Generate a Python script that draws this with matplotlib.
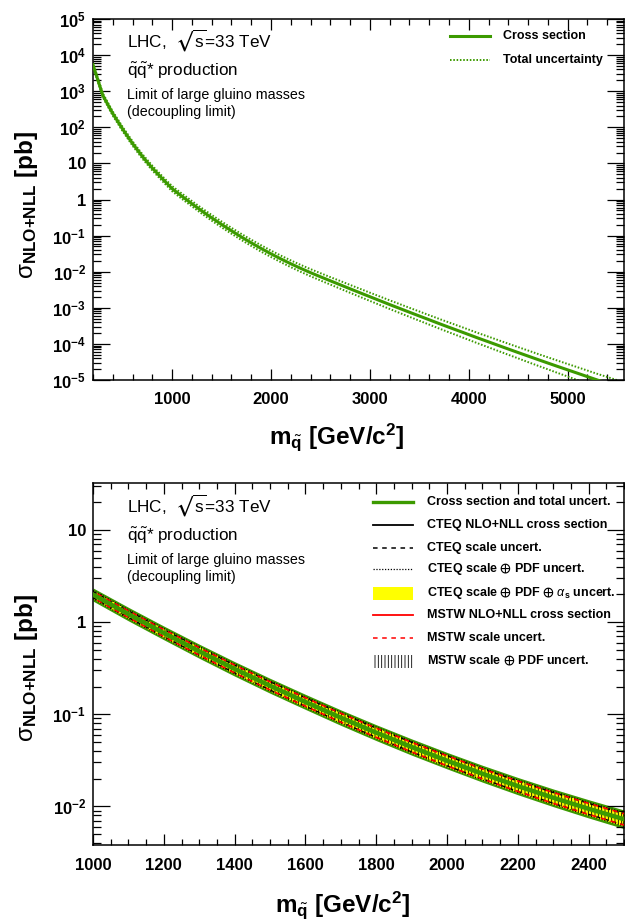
import numpy as np
import matplotlib
matplotlib.use("Agg")
import matplotlib.pyplot as plt
from matplotlib.ticker import LogLocator, MultipleLocator, FuncFormatter, NullFormatter
from matplotlib.lines import Line2D
from matplotlib.patches import Rectangle

plt.rcParams["font.family"] = ["Liberation Sans", "DejaVu Sans"]
plt.rcParams["font.weight"] = "bold"
plt.rcParams["mathtext.fontset"] = "custom"
plt.rcParams["mathtext.rm"] = "Liberation Sans:weight=normal"
plt.rcParams["mathtext.it"] = "Liberation Sans:italic:weight=normal"
plt.rcParams["mathtext.bf"] = "Liberation Sans:bold"
plt.rcParams["mathtext.fallback"] = "stixsans"
plt.rcParams["hatch.linewidth"] = 0.6

# squark-antisquark cross section, 33 TeV, decoupling limit
mass = [200, 300, 400, 500, 600, 700, 800, 900, 1000, 1100, 1200, 1300, 1400,
        1500, 1600, 1700, 1800, 1900, 2000, 2100, 2200, 2300, 2400, 2500, 2600,
        2700, 2800, 2900, 3000, 3100, 3200, 3300, 3400, 3500, 3600, 3700, 3800,
        3900, 4000, 4100, 4200, 4300, 4400, 4500, 4600, 4700, 4800, 4900, 5000,
        5100, 5200, 5300, 5400, 5500]
xsec = [5370, 759, 240, 89.1, 35.5, 15.5, 7.41, 3.80, 1.995, 1.224, 0.763,
        0.483, 0.311, 0.204, 0.136, 0.0918, 0.0631, 0.0441, 0.0313, 0.0226,
        0.0166, 0.0124, 0.0094, 0.00724, 5.60e-3, 4.34e-3, 3.36e-3, 2.61e-3,
        2.03e-3, 1.58e-3, 1.23e-3, 9.64e-4, 7.55e-4, 5.93e-4, 4.66e-4, 3.66e-4,
        2.89e-4, 2.29e-4, 1.81e-4, 1.43e-4, 1.14e-4, 9.06e-5, 7.21e-5, 5.75e-5,
        4.60e-5, 3.68e-5, 2.95e-5, 2.37e-5, 1.91e-5, 1.54e-5, 1.24e-5, 1.00e-5,
        8.15e-6, 6.61e-6]
# total uncertainty in percent
tot_up = [14, 14, 14.5, 15, 15.5, 16, 16.5, 17, 18, 18.5, 19, 19.5, 20, 20.5,
          21, 21.5, 22, 22.5, 23, 23.5, 24, 24.5, 25.5, 26, 26.5, 27.5, 28, 29,
          29.5, 30.5, 31, 32, 32.5, 33.5, 34, 35, 36, 36.5, 37.5, 38, 39, 40,
          40.5, 41.5, 42.5, 43, 44, 45, 45.5, 46.5, 47.5, 48, 49, 50]
tot_dn = [12, 12, 12.5, 13, 13, 13.5, 14, 14.5, 15, 15.5, 15.5, 16, 16.5, 17,
          17, 17.5, 18, 18.5, 18.5, 19, 19.5, 20, 20.5, 21, 21.5, 22, 22.5, 23,
          23.5, 24, 24.5, 25, 25.5, 26, 26.5, 27, 27.5, 28, 28.5, 29, 29.5, 30,
          30.5, 31, 32, 32.5, 33, 34, 34.5, 35.5, 36, 37, 37.5, 38]

# zoomed panel (1000-2500 GeV), uncertainties in percent
zoom_mass = [1000, 1100, 1200, 1300, 1400, 1500, 1600, 1700, 1800, 1900, 2000,
             2100, 2200, 2300, 2400, 2500]
scale_up = [8, 8.5, 9, 9.5, 10, 10.5, 11, 11.5, 12, 12.5, 13, 13, 13.5, 14, 14.5, 15]
scale_dn = [7.5, 8, 8.5, 9, 9.5, 10, 10, 10.5, 11, 11.5, 12, 12, 12.5, 13, 13, 13.5]
pdfas_up = [11, 11.5, 12, 12.5, 13, 13.5, 14, 14.5, 15, 15.5, 16, 16, 16.5, 17, 17.5, 18]
pdfas_dn = [10, 10.5, 11, 11.5, 12, 12.5, 12.5, 13, 13.5, 14, 14.5, 14.5, 15, 15.5, 15.5, 16]

GREEN = "#3c9a00"
W, H = 625, 923
XLABEL = r"$\mathbf{m}_{\tilde{\mathbf{q}}}$ [GeV/c$^{\mathbf{2}}$]"
YLABEL = r"$\mathrm{\sigma}_{\mathbf{NLO{+}NLL}}$ [pb]"


def fx(px):
    return px / W


def fy(py):
    return 1 - py / H


def log_label(v, pos):
    e = int(round(np.log10(v)))
    if e == 0:
        return "1"
    if e == 1:
        return "10"
    return r"$\mathbf{10^{%d}}$" % e


def style_axis(ax, xmajor, xminor):
    ax.set_yscale("log")
    ax.yaxis.set_major_locator(LogLocator(base=10, numticks=30))
    ax.yaxis.set_minor_locator(LogLocator(base=10, subs=np.arange(2, 10) * 1.0, numticks=100))
    ax.yaxis.set_major_formatter(FuncFormatter(log_label))
    ax.yaxis.set_minor_formatter(NullFormatter())
    ax.xaxis.set_major_locator(MultipleLocator(xmajor))
    ax.xaxis.set_minor_locator(MultipleLocator(xminor))
    ax.tick_params(which="both", direction="in", top=True, right=True,
                   width=0.9, labelsize=12)
    ax.tick_params(axis="y", which="major", length=12, pad=5)
    ax.tick_params(axis="y", which="minor", length=6)
    ax.tick_params(axis="x", which="major", length=8, pad=9)
    ax.tick_params(axis="x", which="minor", length=4)
    for s in ax.spines.values():
        s.set_linewidth(1.1)


def info_text(y0):
    fig.text(fx(127), fy(y0), r"LHC,  $\sqrt{\mathrm{s}}$=33 TeV",
             fontsize=12.3, fontweight="normal", va="center")
    fig.text(fx(127), fy(y0 + 31), r"$\tilde{\mathrm{q}}\tilde{\mathrm{q}}$* production",
             fontsize=12.3, fontweight="normal", va="center")
    fig.text(fx(127), fy(y0 + 55), "Limit of large gluino masses",
             fontsize=10.3, fontweight="normal", va="center")
    fig.text(fx(127), fy(y0 + 72), "(decoupling limit)",
             fontsize=10.3, fontweight="normal", va="center")


def legend_entry(y, label, x0, x1, xt, kind, **kw):
    if kind == "line":
        fig.add_artist(Line2D([fx(x0), fx(x1)], [fy(y), fy(y)],
                              transform=fig.transFigure, **kw))
    else:
        fig.add_artist(Rectangle((fx(x0), fy(y + 6.5)), fx(x1) - fx(x0),
                                 13 / H, transform=fig.transFigure, **kw))
    fig.text(fx(xt), fy(y), label, fontsize=9, va="center")


fig = plt.figure(figsize=(W / 100, H / 100), dpi=100)

# ---- upper panel ----
ax1 = fig.add_axes([fx(93), fy(380), fx(624) - fx(93), (380 - 19) / H])
m = np.array(mass)
xs = np.array(xsec)
hi = xs * (1 + np.array(tot_up) / 100)
lo = xs * (1 - np.array(tot_dn) / 100)
ax1.plot(m, xs, color=GREEN, lw=2.2, zorder=3)
ax1.plot(m, hi, color=GREEN, lw=1.4, ls=(0, (0.8, 0.9)), zorder=2)
ax1.plot(m, lo, color=GREEN, lw=1.4, ls=(0, (0.8, 0.9)), zorder=2)
ax1.set_xlim(200, 5570)
ax1.set_ylim(1e-5, 1e5)
style_axis(ax1, 1000, 200)
info_text(40)
legend_entry(36, "Cross section", 450, 490, 503, "line", color=GREEN, lw=2.2)
legend_entry(60, "Total uncertainty", 450, 490, 503, "line", color=GREEN, lw=1.4,
             ls=(0, (0.8, 0.9)))
fig.text(fx(337), fy(437), XLABEL, fontsize=17.5, ha="center", va="center")
fig.text(fx(27), fy(205), YLABEL, fontsize=17.5, rotation=90, ha="center", va="center")

# ---- lower panel ----
ax2 = fig.add_axes([fx(93), fy(845), fx(624) - fx(93), (845 - 483) / H])
sel = (m >= 1000) & (m <= 2500)
zm = np.array(zoom_mass)
zx = xs[sel]
t_hi, t_lo = hi[sel], lo[sel]
s_hi = zx * (1 + np.array(scale_up) / 100)
s_lo = zx * (1 - np.array(scale_dn) / 100)
p_hi = zx * (1 + np.array(pdfas_up) / 100)
p_lo = zx * (1 - np.array(pdfas_dn) / 100)

ax2.fill_between(zm, t_lo, t_hi, color=GREEN, lw=0, zorder=1)
ax2.fill_between(zm, p_lo, p_hi, color="yellow", lw=0, zorder=2)
ax2.fill_between(zm, p_lo * 1.01, p_hi * 0.99, facecolor="none", edgecolor="black",
                 hatch="|||||", lw=0, zorder=3)
for b in (p_hi, p_lo):
    ax2.plot(zm, b, color="black", lw=0.8, ls=(0, (1, 1.5)), zorder=4)
for b in (s_hi, s_lo):
    ax2.plot(zm, b, color="black", lw=1.0, ls=(0, (3, 3)), zorder=4)
    ax2.plot(zm, b, color="red", lw=1.2, ls=(3, (3, 3)), zorder=5)
ax2.plot(zm, zx, color="black", lw=1.2, zorder=5)
ax2.plot(zm, zx, color="red", lw=1.2, zorder=5)
ax2.plot(zm, zx, color=GREEN, lw=3.2, zorder=6)
ax2.set_xlim(1000, 2500)
ax2.set_ylim(0.0038, 32.5)
style_axis(ax2, 200, 50)
info_text(505)

rows = [
    (502, "Cross section and total uncert.", "line", dict(color=GREEN, lw=2.4)),
    (525, "CTEQ NLO+NLL cross section", "line", dict(color="black", lw=1.3)),
    (548, "CTEQ scale uncert.", "line", dict(color="black", lw=1.1, ls=(0, (3, 3)))),
    (569, r"CTEQ scale $\oplus$ PDF uncert.", "line",
     dict(color="black", lw=0.9, ls=(0, (1, 1.3)))),
    (593, r"CTEQ scale $\oplus$ PDF $\oplus$ $\alpha_{\mathbf{s}}$ uncert.", "box",
     dict(facecolor="yellow", edgecolor="none")),
    (615, "MSTW NLO+NLL cross section", "line", dict(color="red", lw=1.3)),
    (638, "MSTW scale uncert.", "line", dict(color="red", lw=1.1, ls=(0, (3, 3)))),
    (661, r"MSTW scale $\oplus$ PDF uncert.", "box",
     dict(facecolor="none", edgecolor="black", hatch="|||||", lw=0)),
]
for y, label, kind, kw in rows:
    legend_entry(y, label, 373, 413, 427, kind, **kw)

fig.text(fx(343), fy(905), XLABEL, fontsize=17.5, ha="center", va="center")
fig.text(fx(27), fy(668), YLABEL, fontsize=17.5, rotation=90, ha="center", va="center")

fig.savefig("out.png", dpi=100)
